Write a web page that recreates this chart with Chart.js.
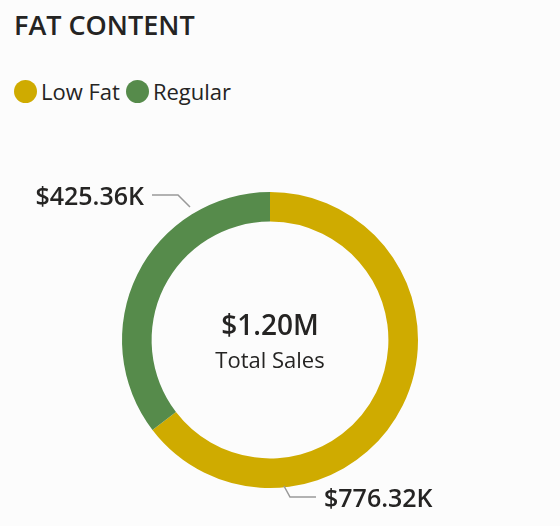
<!DOCTYPE html>
<html><head>
<script src="https://cdn.jsdelivr.net/npm/chart.js@4"></script>
<style>
body{margin:0;background:#fcfcfc;font-family:"Segoe UI","Open Sans",sans-serif;}
#wrap{position:relative;width:560px;height:526px;overflow:hidden}
#title{position:absolute;left:14px;top:6px;font-size:27px;font-weight:600;color:#252423}
#legend{position:absolute;left:14px;top:76px;font-size:22px;color:#252423;display:flex;align-items:center}
.dot{display:inline-block;width:23px;height:23px;border-radius:50%;margin-right:4px}
canvas{position:absolute;left:0;top:0}
</style></head><body>
<div id="wrap">
<div id="title">FAT CONTENT</div>
<div id="legend"><span class="dot" style="background:#cfab00"></span>Low Fat<span class="dot" style="background:#568b4b;margin-left:6px"></span>Regular</div>
<canvas id="c" width="560" height="526"></canvas>
</div>
<script>
const categories = ["Low Fat", "Regular"];
const sales = [776.32, 425.36]; // $K
const colors = ["#cfab00", "#568b4b"];

const total = sales.reduce((a, b) => a + b, 0);

const labelsPlugin = {
  id: "labels",
  afterDraw(chart) {
    const ctx = chart.ctx;
    const arc = chart.getDatasetMeta(0).data[0];
    const cx = arc.x, cy = arc.y;
    ctx.save();
    ctx.textAlign = "center";
    ctx.fillStyle = "#252423";
    ctx.font = "600 28px 'Segoe UI','Open Sans',sans-serif";
    ctx.fillText("$" + (total / 1000).toFixed(2) + "M", cx, cy - 5);
    ctx.font = "22px 'Segoe UI','Open Sans',sans-serif";
    ctx.fillText("Total Sales", cx, cy + 28);

    ctx.strokeStyle = "#999";
    ctx.lineWidth = 1.5;
    ctx.beginPath();
    ctx.moveTo(cx - 118, cy - 145); ctx.lineTo(cx - 92, cy - 145); ctx.lineTo(cx - 80, cy - 133);
    ctx.moveTo(cx + 14, cy + 146); ctx.lineTo(cx + 20, cy + 157); ctx.lineTo(cx + 46, cy + 157);
    ctx.stroke();
    ctx.font = "600 25px 'Segoe UI','Open Sans',sans-serif";
    ctx.textAlign = "right";
    ctx.fillText("$" + sales[1].toFixed(2) + "K", cx - 126, cy - 135);
    ctx.textAlign = "left";
    ctx.fillText("$" + sales[0].toFixed(2) + "K", cx + 54, cy + 167);
    ctx.restore();
  }
};

new Chart(document.getElementById("c"), {
  type: "doughnut",
  data: {
    labels: categories,
    datasets: [{ data: sales, backgroundColor: colors, borderWidth: 0 }]
  },
  options: {
    responsive: false,
    animation: false,
    cutout: "80%",
    layout: { padding: { top: 192, bottom: 38, left: 122, right: 142 } },
    plugins: { legend: { display: false }, tooltip: { enabled: false } }
  },
  plugins: [labelsPlugin]
});
</script>
</body></html>
